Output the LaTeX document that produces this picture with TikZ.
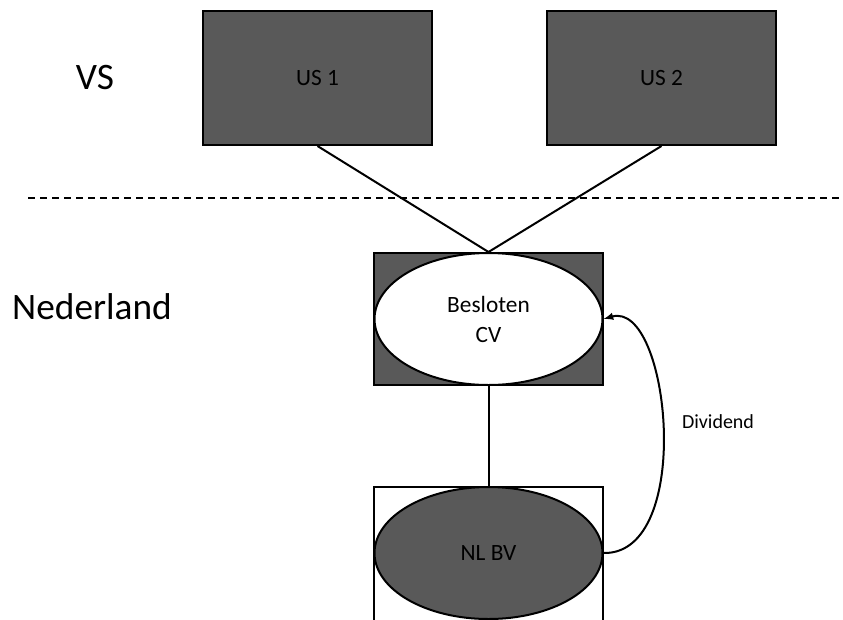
\documentclass[tikz,border=0pt]{standalone}
\usepackage{fontspec}
\setmainfont{Carlito}
\usepackage{tikz}
\usetikzlibrary{shapes.geometric}

\definecolor{boxgray}{HTML}{595959}

\begin{document}
\begin{tikzpicture}[x=0.75pt, y=-0.75pt, line width=1.5pt,
  entbox/.style={draw, rectangle, minimum width=171.75pt, inner sep=0pt},
  entoval/.style={draw, ellipse, minimum width=171pt, minimum height=99pt, inner sep=0pt, align=center},
  boxtext/.style={font=\fontsize{17.5}{22.5}\selectfont},
  landtext/.style={font=\fontsize{28}{30}\selectfont}]
\clip (0,0) rectangle (843,619);

% Countries
\node[landtext] (vs) at (95,78) {VS};
\node[landtext] (nl) at (92,307) {Nederland};

% Border
\draw[dash pattern=on 5.5pt off 3.5pt, line width=2.2pt] (28,198) -- (843,198);

% US companies
\node[entbox, fill=boxgray, minimum height=100.5pt, boxtext] (us1) at (317.5,78) {US 1};
\node[entbox, fill=boxgray, minimum height=100.5pt, boxtext] (us2) at (661.5,78) {US 2};

% Dutch entities
\node[entbox, fill=boxgray, minimum height=99pt] (cvbox) at (488.5,319) {};
\node[entoval, fill=white, boxtext] (cv) at (488.5,319) {Besloten\\CV};
\node[entbox, fill=white, minimum height=150pt] (nlbox) at (488.5,587) {};
\node[entoval, fill=boxgray, boxtext] (nlbv) at (488.5,553) {NL BV};

% Ownership lines
\draw (us1.south) -- (cvbox.north);
\draw (us2.south) -- (cvbox.north);
\draw (cvbox.south) -- (nlbox.north);

% Dividend flow
\draw[-latex] (nlbv.east) .. controls (695,555) and (670,300) .. (cv.east);
\node[font=\fontsize{15}{18}\selectfont] (div) at (718,422) {Dividend};
\end{tikzpicture}
\end{document}
